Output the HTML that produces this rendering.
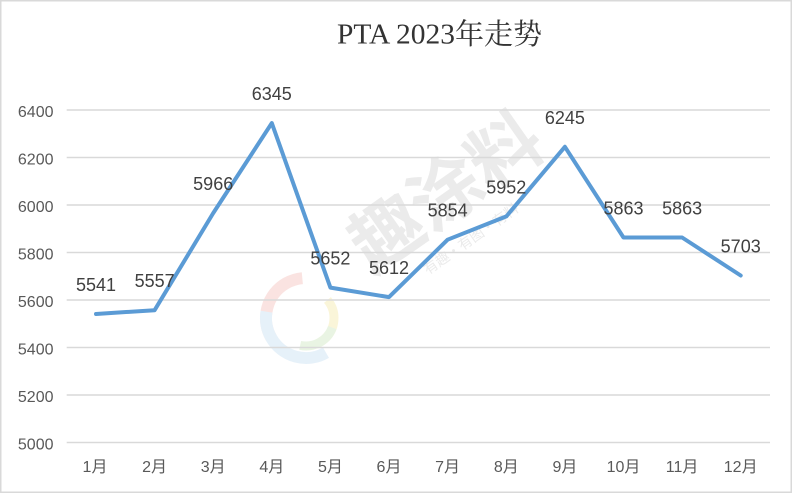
<!DOCTYPE html>
<html><head><meta charset="utf-8"><style>
html,body{margin:0;padding:0;background:#fff;}
svg{display:block;}
</style></head><body>
<svg width="794" height="494" viewBox="0 0 794 494" xmlns="http://www.w3.org/2000/svg">
<rect x="0" y="0" width="794" height="494" fill="#fff"/>
<rect x="0.75" y="0.75" width="790.5" height="491.5" fill="#fff" stroke="#D9D9D9" stroke-width="1.5"/>
<!-- watermark -->
<g opacity="0.5">
<circle cx="306" cy="318" r="40" fill="none" stroke="#F6C9C4" stroke-width="12" stroke-dasharray="80 260" transform="rotate(150 306 318)"/>
<circle cx="306" cy="318" r="40" fill="none" stroke="#CFE4F4" stroke-width="12" stroke-dasharray="90 260" transform="rotate(60 306 318)"/>
<circle cx="306" cy="318" r="28" fill="none" stroke="#F7EDB5" stroke-width="9" stroke-dasharray="50 200" transform="rotate(-40 306 318)"/>
<circle cx="306" cy="318" r="28" fill="none" stroke="#D5EBC9" stroke-width="9" stroke-dasharray="40 200" transform="rotate(20 306 318)"/>
</g>
<text x="0" y="0" transform="translate(372 275) rotate(-35)" font-family="'Noto Sans CJK SC',sans-serif" font-weight="bold" font-size="72" fill="#EBEBEB">趣涂料</text>
<text x="0" y="0" transform="translate(428 275) rotate(-35)" font-family="'Noto Sans CJK SC',sans-serif" font-size="14" fill="#EBEBEB">有趣·有图·有料</text>
<!-- gridlines -->
<g stroke="#D9D9D9" stroke-width="1.6">
<line x1="66.7" y1="110" x2="770" y2="110"/>
<line x1="66.7" y1="157.5" x2="770" y2="157.5"/>
<line x1="66.7" y1="205" x2="770" y2="205"/>
<line x1="66.7" y1="252.5" x2="770" y2="252.5"/>
<line x1="66.7" y1="300" x2="770" y2="300"/>
<line x1="66.7" y1="347.5" x2="770" y2="347.5"/>
<line x1="66.7" y1="395" x2="770" y2="395"/>
<line x1="66.7" y1="442.5" x2="770" y2="442.5"/>
</g>
<!-- y labels -->
<g font-family="'Liberation Sans',sans-serif" font-size="16" fill="#595959" text-anchor="end">
<text x="53.5" y="117">6400</text>
<text x="53.5" y="164.5">6200</text>
<text x="53.5" y="212">6000</text>
<text x="53.5" y="259.5">5800</text>
<text x="53.5" y="307">5600</text>
<text x="53.5" y="354.5">5400</text>
<text x="53.5" y="402">5200</text>
<text x="53.5" y="449.5">5000</text>
</g>
<!-- x labels -->
<g font-family="'Liberation Sans','Noto Sans CJK SC',sans-serif" font-size="16" fill="#595959" text-anchor="middle">
<text x="95" y="472">1月</text>
<text x="154.6" y="472">2月</text>
<text x="213.2" y="472">3月</text>
<text x="271.8" y="472">4月</text>
<text x="330.4" y="472">5月</text>
<text x="389" y="472">6月</text>
<text x="447.6" y="472">7月</text>
<text x="506.3" y="472">8月</text>
<text x="564.9" y="472">9月</text>
<text x="623.5" y="472">10月</text>
<text x="682.1" y="472">11月</text>
<text x="740.7" y="472">12月</text>
</g>
<!-- series -->
<polyline fill="none" stroke="#5B9BD5" stroke-width="4" stroke-linejoin="round" stroke-linecap="round"
points="96,314 154.6,310.2 213.2,213.1 271.8,123.1 330.4,287.6 389,297.1 447.6,239.7 506.3,216.4 564.9,146.8 623.5,237.5 682.1,237.5 740.7,275.5"/>
<!-- data labels -->
<g font-family="'Liberation Sans',sans-serif" font-size="18" fill="#404040" text-anchor="middle">
<text x="96" y="291">5541</text>
<text x="154.6" y="287.2">5557</text>
<text x="213.2" y="190.1">5966</text>
<text x="271.8" y="100.1">6345</text>
<text x="330.4" y="264.6">5652</text>
<text x="389" y="274.1">5612</text>
<text x="447.6" y="216.7">5854</text>
<text x="506.3" y="193.4">5952</text>
<text x="564.9" y="123.8">6245</text>
<text x="623.5" y="214.5">5863</text>
<text x="682.1" y="214.5">5863</text>
<text x="740.7" y="252.5">5703</text>
</g>
<!-- title -->
<text x="337" y="43.5" font-family="'Liberation Serif',serif" font-size="28" fill="#333" textLength="118" lengthAdjust="spacingAndGlyphs">PTA 2023</text>
<text x="455" y="44" font-family="'Noto Serif CJK SC','Noto Sans CJK SC',serif" font-size="29" fill="#333">年走势</text>
</svg>
</body></html>
